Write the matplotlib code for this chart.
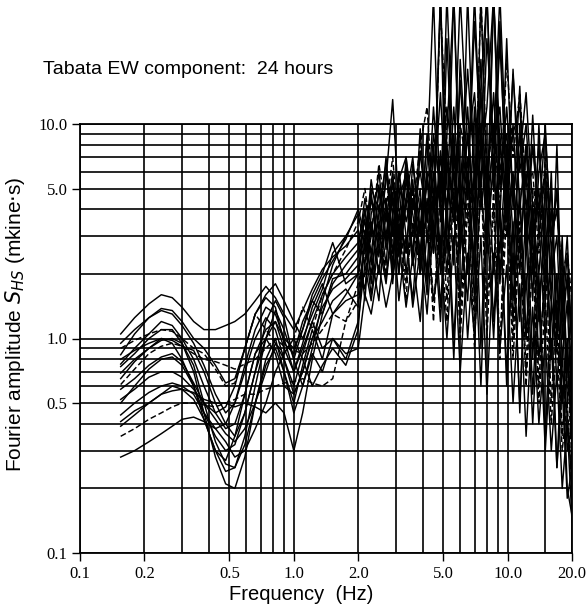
# Fourier amplitude spectra, Tabata EW component, 24 one-hour records.
import matplotlib
matplotlib.use("Agg")
import matplotlib.pyplot as plt
from matplotlib.ticker import FixedLocator, NullFormatter
from matplotlib.transforms import Bbox, TransformedBbox

# Frequency samples (Hz) shared by all spectra
freq = [0.155, 0.18, 0.21, 0.24, 0.27, 0.30, 0.34, 0.38, 0.43, 0.48,
        0.53, 0.59, 0.66, 0.74, 0.82, 0.90, 1.0, 1.1, 1.22, 1.36,
        1.52, 1.75,
        2.0, 2.15, 2.3, 2.5, 2.7, 2.9, 3.1, 3.35, 3.6, 3.9,
        4.2, 4.5, 4.85, 5.2, 5.6, 6.0, 6.5, 7.0, 7.5, 8.0,
        8.6, 9.2, 9.9, 10.6, 11.4, 12.2, 13.1, 14.0, 15.0, 16.0,
        17.0, 18.0, 19.0, 20.0]

# Amplitudes (mkine*s); first 22 values below 2 Hz, the rest 2-20 Hz
s01 = [1.05, 1.25, 1.45, 1.6, 1.55, 1.4, 1.2, 1.1, 1.1, 1.15, 1.2, 1.3, 1.5, 1.75, 1.55, 1.3, 1.1, 1.35, 1.7, 2.1, 2.4, 2.7,
       3.2, 2.2, 4.5, 2.8, 5.5, 13.0, 4.0, 2.5, 6.5, 3.2, 8.5, 3.0, 40, 5.0, 3.5, 16, 4.5, 30, 8.0, 40,
       6.0, 24, 5.0, 17, 6.0, 10, 3.0, 8.0, 2.5, 5.0, 1.2, 2.5, 0.7, 1.0]
s02 = [0.84, 1.05, 1.25, 1.38, 1.35, 1.2, 1.0, 0.9, 0.75, 0.62, 0.65, 0.9, 1.3, 1.55, 1.4, 0.95, 0.85, 1.2, 1.5, 1.3, 1.9, 2.0,
       2.4, 3.6, 1.8, 4.2, 2.2, 5.5, 3.0, 6.5, 2.4, 9.5, 2.8, 6.0, 2.0, 9.0, 40, 4.0, 12, 3.0, 40, 5.0,
       14, 3.5, 25, 4.0, 15, 2.5, 11, 3.0, 6.0, 1.5, 8.0, 1.0, 2.0, 0.5]
s03 = [0.76, 0.9, 1.05, 1.2, 1.15, 1.0, 0.8, 0.6, 0.45, 0.38, 0.4, 0.55, 0.85, 1.1, 1.2, 0.9, 0.7, 0.95, 1.4, 1.8, 1.3, 1.5,
       1.6, 2.8, 4.8, 2.4, 6.0, 3.0, 5.2, 2.0, 4.5, 2.5, 6.5, 40, 3.5, 7.0, 2.2, 20, 5.0, 40, 7.0, 12,
       40, 6.0, 9.0, 3.0, 7.0, 14, 4.0, 2.0, 5.0, 2.0, 3.0, 0.8, 1.5, 0.4]
s04 = [0.74, 0.85, 1.0, 1.1, 1.1, 0.95, 0.75, 0.5, 0.33, 0.26, 0.25, 0.35, 0.6, 1.0, 1.35, 1.1, 0.8, 0.6, 0.9, 1.5, 2.2, 3.0,
       3.0, 1.5, 3.8, 5.2, 2.6, 4.5, 2.0, 7.0, 3.0, 5.0, 1.8, 4.0, 40, 2.5, 6.0, 3.0, 9.0, 4.0, 15, 40,
       5.0, 30, 4.0, 10, 2.5, 6.0, 1.5, 10, 2.0, 4.0, 1.0, 3.0, 0.5, 0.8]
s05 = [0.69, 0.8, 0.9, 0.98, 1.0, 0.95, 0.7, 0.45, 0.28, 0.21, 0.2, 0.28, 0.5, 0.8, 1.0, 0.7, 0.5, 0.75, 1.1, 0.8, 1.3, 1.6,
       2.0, 4.0, 2.5, 1.5, 4.0, 2.0, 6.0, 3.0, 1.5, 4.5, 2.0, 8.0, 2.5, 25, 4.0, 1.5, 6.0, 2.0, 8.0, 3.0,
       10, 2.0, 6.0, 1.5, 5.0, 1.0, 4.0, 1.5, 3.0, 0.8, 2.0, 0.5, 0.9, 0.3]
s06 = [0.61, 0.72, 0.85, 0.92, 0.95, 0.92, 0.85, 0.8, 0.78, 0.75, 0.72, 0.76, 0.8, 0.9, 1.0, 0.92, 0.88, 0.85, 0.95, 1.1, 1.3, 1.2,
       1.5, 2.0, 3.0, 3.5, 2.0, 3.0, 4.0, 1.8, 3.5, 2.0, 4.0, 1.5, 3.0, 1.2, 5.0, 1.0, 4.0, 1.2, 6.0, 1.0,
       5.0, 0.9, 4.0, 0.8, 3.0, 0.6, 2.5, 0.5, 1.5, 0.4, 1.0, 0.3, 0.5, 0.2]
s07 = [0.58, 0.65, 0.75, 0.82, 0.85, 0.78, 0.62, 0.5, 0.45, 0.48, 0.6, 0.9, 1.3, 1.6, 1.8, 1.5, 1.2, 1.0, 1.3, 1.7, 2.5, 3.0,
       3.8, 2.6, 5.5, 3.2, 7.0, 2.5, 4.5, 5.8, 2.2, 7.5, 3.5, 12, 4.0, 40, 6.0, 2.5, 40, 5.0, 20, 2.8,
       40, 8.0, 3.5, 18, 4.0, 8.0, 2.0, 6.0, 9.0, 3.0, 5.0, 1.5, 3.0, 0.9]
s08 = [0.44, 0.5, 0.56, 0.6, 0.62, 0.6, 0.55, 0.45, 0.35, 0.3, 0.32, 0.45, 0.7, 1.0, 1.2, 1.0, 0.7, 0.9, 1.2, 0.9, 1.0, 0.8,
       1.2, 2.2, 1.5, 2.8, 1.8, 3.5, 1.5, 3.0, 1.4, 2.6, 1.3, 3.5, 1.2, 4.0, 0.8, 4.5, 1.0, 3.0, 0.6, 3.5,
       1.0, 4.0, 0.7, 2.5, 0.5, 2.0, 0.4, 1.5, 0.3, 1.0, 0.25, 0.6, 0.18, 0.25]
s09 = [0.41, 0.46, 0.5, 0.55, 0.6, 0.58, 0.52, 0.42, 0.3, 0.24, 0.25, 0.32, 0.5, 0.75, 0.9, 0.7, 0.45, 0.6, 0.85, 0.7, 1.0, 0.85,
       0.9, 1.6, 1.3, 2.2, 1.4, 2.0, 2.8, 1.4, 2.4, 1.2, 3.2, 1.5, 2.5, 1.0, 3.0, 0.7, 2.5, 1.0, 3.0, 0.55,
       2.5, 0.9, 2.2, 0.5, 1.8, 0.35, 1.4, 0.4, 1.0, 0.3, 0.7, 0.2, 0.4, 0.14]
s10 = [0.39, 0.44, 0.5, 0.55, 0.57, 0.58, 0.56, 0.52, 0.5, 0.5, 0.48, 0.5, 0.48, 0.45, 0.5, 0.45, 0.3, 0.45, 0.8, 1.3, 1.8, 2.2,
       2.6, 4.5, 3.0, 6.0, 2.8, 4.8, 2.4, 5.5, 3.8, 2.2, 6.0, 2.8, 7.5, 3.5, 12, 4.0, 9.0, 3.0, 14, 4.5,
       8.0, 12, 3.5, 6.0, 2.0, 8.0, 3.0, 5.0, 1.5, 6.0, 1.0, 2.0, 0.6, 0.5]
s11 = [0.35, 0.38, 0.42, 0.45, 0.48, 0.5, 0.5, 0.49, 0.48, 0.5, 0.52, 0.55, 0.55, 0.58, 0.6, 0.62, 0.63, 0.65, 0.62, 0.6, 0.65, 1.2,
       1.8, 2.5, 3.5, 2.0, 4.0, 2.5, 3.5, 1.5, 5.0, 2.0, 4.0, 1.2, 5.0, 1.5, 7.0, 1.2, 5.0, 0.9, 6.0, 1.5,
       4.0, 0.8, 7.0, 1.0, 3.5, 0.7, 5.0, 0.6, 2.5, 0.5, 1.5, 0.35, 0.8, 0.25]
s12 = [0.28, 0.3, 0.33, 0.36, 0.39, 0.42, 0.43, 0.41, 0.38, 0.33, 0.28, 0.3, 0.38, 0.5, 0.7, 0.85, 1.0, 0.8, 0.6, 0.75, 0.9, 0.75,
       1.1, 3.0, 2.0, 3.8, 4.5, 2.2, 6.0, 3.5, 5.0, 2.5, 5.5, 7.0, 2.2, 8.0, 3.5, 5.5, 2.0, 12, 4.0, 7.0,
       2.0, 9.0, 3.0, 5.5, 1.2, 4.0, 0.8, 3.5, 1.0, 2.5, 0.6, 1.5, 0.3, 0.4]
s13 = [0.9, 0.98, 1.05, 1.1, 1.08, 1.0, 0.9, 0.85, 0.72, 0.6, 0.62, 0.9, 1.3, 1.1, 0.95, 0.85, 1.0, 1.4, 1.1, 1.6, 2.0, 2.6,
       3.5, 5.0, 3.0, 6.5, 4.0, 7.0, 3.0, 6.0, 4.0, 8.0, 12, 4.0, 35, 8.0, 4.0, 10, 6.0, 3.5, 40, 6.0,
       10, 4.0, 20, 7.0, 14, 5.0, 6.0, 2.5, 7.0, 3.0, 4.0, 2.0, 2.5, 1.5]
s14 = [0.8, 0.88, 0.95, 1.0, 0.98, 0.92, 0.88, 0.7, 0.5, 0.4, 0.35, 0.45, 0.7, 1.2, 1.5, 1.25, 0.8, 1.1, 1.6, 2.0, 2.8, 1.8,
       2.0, 3.2, 2.5, 4.8, 3.0, 5.5, 2.6, 4.2, 5.0, 3.0, 5.5, 2.5, 7.0, 4.0, 9.0, 3.0, 7.0, 2.0, 10, 3.5,
       6.0, 2.5, 8.0, 2.0, 10, 2.5, 4.0, 1.2, 4.0, 0.8, 2.0, 0.5, 1.0, 0.35]
s15 = [0.5, 0.6, 0.72, 0.8, 0.82, 0.75, 0.6, 0.45, 0.38, 0.4, 0.5, 0.7, 1.0, 1.25, 1.1, 0.8, 0.6, 0.85, 1.2, 1.6, 2.0, 2.4,
       2.8, 4.0, 2.2, 5.0, 3.5, 6.0, 2.8, 4.5, 7.0, 3.0, 9.0, 4.5, 14, 3.5, 40, 5.0, 18, 6.0, 9.0, 4.0,
       40, 5.0, 12, 4.5, 9.0, 3.0, 8.0, 3.5, 10, 2.5, 5.0, 1.2, 2.5, 0.8]
s16 = [0.65, 0.78, 0.9, 1.0, 0.95, 0.8, 0.6, 0.42, 0.3, 0.27, 0.35, 0.55, 0.85, 1.0, 0.85, 0.6, 0.55, 0.7, 1.0, 1.4, 1.7, 1.9,
       2.2, 1.7, 3.5, 2.0, 4.5, 1.8, 3.8, 2.5, 5.5, 2.0, 4.5, 2.5, 6.0, 2.0, 8.0, 2.5, 6.0, 1.5, 5.0, 2.5,
       7.0, 1.8, 5.0, 1.2, 4.5, 1.0, 3.0, 0.8, 2.0, 1.5, 0.9, 0.7, 0.45, 0.2]
s17 = [0.95, 1.1, 1.25, 1.35, 1.3, 1.15, 0.95, 0.75, 0.55, 0.45, 0.5, 0.75, 1.1, 1.4, 1.3, 1.0, 0.9, 1.1, 1.5, 1.9, 2.3, 2.9,
       4.0, 3.0, 5.0, 4.0, 6.5, 3.8, 5.5, 7.0, 4.0, 6.0, 3.5, 9.0, 5.0, 12, 6.0, 40, 8.0, 14, 5.0, 25,
       8.0, 40, 6.0, 9.0, 12, 4.0, 8.0, 4.0, 6.0, 3.0, 4.0, 1.5, 1.8, 1.0]
s18 = [0.52, 0.58, 0.66, 0.7, 0.7, 0.66, 0.58, 0.5, 0.42, 0.36, 0.33, 0.38, 0.5, 0.7, 0.95, 0.8, 0.55, 0.7, 1.0, 1.2, 1.5, 1.7,
       1.4, 2.8, 1.6, 3.2, 1.9, 3.8, 2.0, 4.5, 2.2, 3.5, 1.6, 5.0, 1.4, 4.5, 1.0, 3.5, 1.5, 6.5, 0.9, 5.0,
       1.2, 4.0, 0.6, 3.5, 0.45, 3.0, 0.55, 2.0, 0.35, 1.5, 0.25, 0.9, 0.2, 0.15]

spectra = [s01, s02, s03, s04, s05, s06, s07, s08, s09,
           s10, s11, s12, s13, s14, s15, s16, s17, s18]
dashed = [s06, s11, s13]

x_major = [0.1, 0.2, 0.5, 1.0, 2.0, 5.0, 10.0, 20.0]
x_labels = ["0.1", "0.2", "0.5", "1.0", "2.0", "5.0", "10.0", "20.0"]
x_minor = [0.3, 0.4, 0.6, 0.7, 0.8, 0.9, 3.0, 4.0, 6.0, 7.0, 8.0, 9.0, 15.0]
y_major = [0.1, 0.5, 1.0, 5.0, 10.0]
y_labels = ["0.1", "0.5", "1.0", "5.0", "10.0"]
y_minor = [0.2, 0.3, 0.4, 0.6, 0.7, 0.8, 0.9, 2.0, 3.0, 4.0, 6.0, 7.0, 8.0, 9.0]

fig = plt.figure(figsize=(5.87, 6.08), dpi=100)
ax = fig.add_axes([80 / 587, 1 - 553 / 608, 492 / 587, 429 / 608])
ax.set_xscale("log")
ax.set_yscale("log")
ax.set_xlim(0.1, 20.0)
ax.set_ylim(0.1, 10.0)

# spectra may run above the frame, nearly up to the top edge of the page
clip = TransformedBbox(Bbox.from_extents(0.1, 0.09, 20.0, 35.0), ax.transData)
for s in spectra:
    ls = (0, (4, 2)) if any(s is d for d in dashed) else "-"
    line, = ax.plot(freq, s, color="black", lw=1.05, ls=ls, zorder=3)
    line.set_clip_box(clip)

ax.xaxis.set_major_locator(FixedLocator(x_major))
ax.xaxis.set_minor_locator(FixedLocator(x_minor))
ax.yaxis.set_major_locator(FixedLocator(y_major))
ax.yaxis.set_minor_locator(FixedLocator(y_minor))
ax.set_xticklabels(x_labels)
ax.set_yticklabels(y_labels)
ax.xaxis.set_minor_formatter(NullFormatter())
ax.yaxis.set_minor_formatter(NullFormatter())
ax.grid(True, which="both", color="black", lw=1.2)
ax.tick_params(which="minor", length=0)
ax.tick_params(which="major", direction="out", length=6, width=1.0, pad=3)
for lab in ax.get_xticklabels() + ax.get_yticklabels():
    lab.set_family("Liberation Serif")
    lab.set_fontsize(12)
for sp in ax.spines.values():
    sp.set_linewidth(1.3)

fig.text(43 / 587, 1 - 70 / 608, "Tabata EW component:  24 hours",
         family="Liberation Sans", fontsize=14, va="center", ha="left")
fig.text(301 / 587, 1 - 594 / 608, "Frequency  (Hz)",
         family="Liberation Sans", fontsize=14.5, va="center", ha="center")
fig.text(15 / 587, 1 - 324 / 608, "Fourier amplitude $S_{HS}$ (mkine$\\cdot$s)",
         family="Liberation Sans", fontsize=15, va="center", ha="center",
         rotation=90)

fig.savefig("out.png", dpi=100)
